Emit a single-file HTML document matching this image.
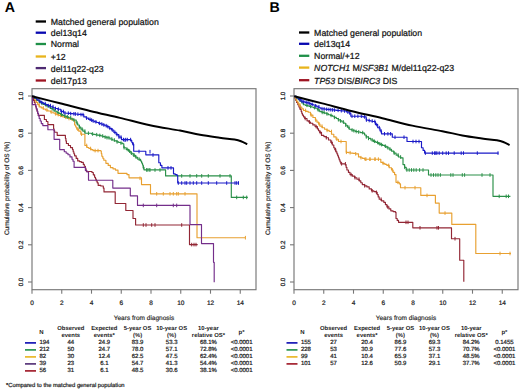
<!DOCTYPE html>
<html><head><meta charset="utf-8"><style>
html,body{margin:0;padding:0;background:#fff;width:520px;height:390px;overflow:hidden}
svg{display:block;font-family:"Liberation Sans", sans-serif;text-rendering:geometricPrecision}

</style></head><body>
<svg width="520" height="390" viewBox="0 0 520 390">
<text x="4.85" y="11.6" font-size="14.2" text-anchor="start" font-weight="bold" font-style="normal" fill="#000" >A</text>
<line x1="35.7" y1="21.5" x2="46" y2="21.5" stroke="#000000" stroke-width="2.3"/>
<text x="50.8" y="24.9" font-size="8.75" fill="#111" stroke="#111" stroke-width="0.22">Matched general population</text>
<line x1="35.7" y1="32.7" x2="46" y2="32.7" stroke="#0808b0" stroke-width="2.3"/>
<text x="50.8" y="36.1" font-size="8.75" fill="#111" stroke="#111" stroke-width="0.22">del13q14</text>
<line x1="35.7" y1="44.0" x2="46" y2="44.0" stroke="#1f9048" stroke-width="2.3"/>
<text x="50.8" y="47.4" font-size="8.75" fill="#111" stroke="#111" stroke-width="0.22">Normal</text>
<line x1="35.7" y1="56.5" x2="46" y2="56.5" stroke="#e8b41c" stroke-width="2.3"/>
<text x="50.8" y="59.9" font-size="8.75" fill="#111" stroke="#111" stroke-width="0.22">+12</text>
<line x1="35.7" y1="68.1" x2="46" y2="68.1" stroke="#4e2a72" stroke-width="2.3"/>
<text x="50.8" y="71.5" font-size="8.75" fill="#111" stroke="#111" stroke-width="0.22">del11q22-q23</text>
<line x1="35.7" y1="80.5" x2="46" y2="80.5" stroke="#9e1422" stroke-width="2.3"/>
<text x="50.8" y="83.9" font-size="8.75" fill="#111" stroke="#111" stroke-width="0.22">del17p13</text>
<rect x="32.0" y="88.7" width="224.0" height="201.0" fill="none" stroke="#777" stroke-width="1.15"/>
<line x1="28.0" y1="282.0" x2="32.0" y2="282.0" stroke="#777" stroke-width="1.1"/>
<text transform="translate(23.3,282.0) rotate(-90)" font-size="6.2" text-anchor="middle" fill="#222" stroke="#222" stroke-width="0.25">0.0</text>
<line x1="28.0" y1="244.8" x2="32.0" y2="244.8" stroke="#777" stroke-width="1.1"/>
<text transform="translate(23.3,244.8) rotate(-90)" font-size="6.2" text-anchor="middle" fill="#222" stroke="#222" stroke-width="0.25">0.2</text>
<line x1="28.0" y1="207.6" x2="32.0" y2="207.6" stroke="#777" stroke-width="1.1"/>
<text transform="translate(23.3,207.6) rotate(-90)" font-size="6.2" text-anchor="middle" fill="#222" stroke="#222" stroke-width="0.25">0.4</text>
<line x1="28.0" y1="170.4" x2="32.0" y2="170.4" stroke="#777" stroke-width="1.1"/>
<text transform="translate(23.3,170.4) rotate(-90)" font-size="6.2" text-anchor="middle" fill="#222" stroke="#222" stroke-width="0.25">0.6</text>
<line x1="28.0" y1="133.2" x2="32.0" y2="133.2" stroke="#777" stroke-width="1.1"/>
<text transform="translate(23.3,133.2) rotate(-90)" font-size="6.2" text-anchor="middle" fill="#222" stroke="#222" stroke-width="0.25">0.8</text>
<line x1="28.0" y1="96.0" x2="32.0" y2="96.0" stroke="#777" stroke-width="1.1"/>
<text transform="translate(23.3,96.0) rotate(-90)" font-size="6.2" text-anchor="middle" fill="#222" stroke="#222" stroke-width="0.25">1.0</text>
<text transform="translate(9.2,188.4) rotate(-90)" font-size="6.45" text-anchor="middle" fill="#262626" stroke="#262626" stroke-width="0.18">Cumulative probability of OS (%)</text>
<line x1="32.0" y1="289.7" x2="32.0" y2="293.7" stroke="#777" stroke-width="1.1"/>
<text x="32.0" y="305" font-size="6.5" text-anchor="middle" font-weight="normal" font-style="normal" fill="#222" stroke="#222" stroke-width="0.22" >0</text>
<line x1="61.75" y1="289.7" x2="61.75" y2="293.7" stroke="#777" stroke-width="1.1"/>
<text x="61.75" y="305" font-size="6.5" text-anchor="middle" font-weight="normal" font-style="normal" fill="#222" stroke="#222" stroke-width="0.22" >2</text>
<line x1="91.5" y1="289.7" x2="91.5" y2="293.7" stroke="#777" stroke-width="1.1"/>
<text x="91.5" y="305" font-size="6.5" text-anchor="middle" font-weight="normal" font-style="normal" fill="#222" stroke="#222" stroke-width="0.22" >4</text>
<line x1="121.25" y1="289.7" x2="121.25" y2="293.7" stroke="#777" stroke-width="1.1"/>
<text x="121.25" y="305" font-size="6.5" text-anchor="middle" font-weight="normal" font-style="normal" fill="#222" stroke="#222" stroke-width="0.22" >6</text>
<line x1="151.0" y1="289.7" x2="151.0" y2="293.7" stroke="#777" stroke-width="1.1"/>
<text x="151.0" y="305" font-size="6.5" text-anchor="middle" font-weight="normal" font-style="normal" fill="#222" stroke="#222" stroke-width="0.22" >8</text>
<line x1="180.75" y1="289.7" x2="180.75" y2="293.7" stroke="#777" stroke-width="1.1"/>
<text x="180.75" y="305" font-size="6.5" text-anchor="middle" font-weight="normal" font-style="normal" fill="#222" stroke="#222" stroke-width="0.22" >10</text>
<line x1="210.5" y1="289.7" x2="210.5" y2="293.7" stroke="#777" stroke-width="1.1"/>
<text x="210.5" y="305" font-size="6.5" text-anchor="middle" font-weight="normal" font-style="normal" fill="#222" stroke="#222" stroke-width="0.22" >12</text>
<line x1="240.25" y1="289.7" x2="240.25" y2="293.7" stroke="#777" stroke-width="1.1"/>
<text x="240.25" y="305" font-size="6.5" text-anchor="middle" font-weight="normal" font-style="normal" fill="#222" stroke="#222" stroke-width="0.22" >14</text>
<text x="144.0" y="320.3" font-size="6.5" text-anchor="middle" font-weight="normal" font-style="normal" fill="#262626" stroke="#262626" stroke-width="0.16" >Years from diagnosis</text>
<path d="M32.0,96.3 L33.4,96.3 L33.4,98.3 L34.8,98.3 L34.8,100.3 L36.2,100.3 L36.2,102.3 L37.7,102.3 L37.7,104.6 L39.2,104.6 L39.2,106.9 L41.3,106.9 L41.3,107.9 L43.3,107.9 L43.3,109.0 L45.4,109.0 L45.4,110.0 L47.9,110.0 L47.9,111.0 L50.5,111.0 L50.5,112.0 L53.0,112.0 L53.0,113.0 L55.0,113.0 L55.0,113.8 L56.9,113.8 L56.9,114.6 L58.8,114.6 L58.8,115.4 L60.8,115.4 L60.8,116.2 L62.7,116.2 L62.7,116.8 L64.7,116.8 L64.7,117.3 L66.6,117.3 L66.6,117.9 L68.5,117.9 L68.5,118.5 L70.8,118.5 L70.8,119.2 L73.0,119.2 L73.0,120.0 L74.6,120.0 L74.6,125.0 L75.7,125.0 L75.7,127.0 L76.7,127.0 L76.7,129.1 L78.7,129.1 L78.7,131.1 L80.8,131.1 L80.8,134.2 L84.9,134.2 L84.9,145.5 L86.9,145.5 L86.9,147.5 L88.9,147.5 L88.9,148.5 L91.0,148.5 L91.0,149.6 L93.0,149.6 L93.0,150.6 L100.8,150.6 L100.8,151.0 L101.3,151.0 L101.3,153.6 L101.8,153.6 L101.8,156.2 L102.8,156.2 L102.8,158.2 L103.8,158.2 L103.8,160.2 L105.9,160.2 L105.9,163.3 L108.2,163.3 L108.2,165.4 L110.4,165.4 L110.4,167.6 L113.0,167.6 L113.0,168.8 L115.5,168.8 L115.5,170.1 L118.0,170.1 L118.0,173.3 L127.0,173.3 L127.0,174.6 L129.0,174.6 L129.0,177.8 L141.5,177.8 L141.5,184.6 L150.5,184.6 L150.5,193.8 L197.0,193.8 L197.0,237.7 L245.4,237.7" fill="none" stroke="#e8a030" stroke-width="1.15" stroke-linejoin="round"/>
<path d="M140.0,176.5V180.1 M156.7,192.0V195.6 M163.3,192.0V195.6 M170.0,192.0V195.6 M173.3,192.0V195.6 M176.7,192.0V195.6 M178.3,192.0V195.6 M185.0,192.0V195.6 M245.4,235.9V239.5 M36.0,98.5V102.1 M39.2,102.8V106.4 M43.3,106.1V109.7 M46.9,108.2V111.8 M51.2,110.2V113.8 M55.6,112.0V115.6 M58.2,112.8V116.4 M60.7,113.6V117.2 M65.8,115.5V119.1 M69.0,116.7V120.3 M72.1,117.5V121.0 M77.7,127.3V130.9 M81.6,132.4V136.0 M86.7,143.7V147.3 M90.6,146.7V150.3 M95.1,148.8V152.4 M98.0,148.8V152.4" stroke="#e8a030" stroke-width="1"/>
<path d="M32.0,96.3 L32.8,96.3 L32.8,98.4 L33.5,98.4 L33.5,100.4 L34.3,100.4 L34.3,102.5 L35.1,102.5 L35.1,104.6 L35.7,104.6 L35.7,106.8 L36.3,106.8 L36.3,108.9 L37.0,108.9 L37.0,111.1 L37.6,111.1 L37.6,113.2 L38.2,113.2 L38.2,115.4 L44.4,115.4 L44.4,119.5 L46.4,119.5 L46.4,121.5 L47.9,121.5 L47.9,124.6 L53.6,124.6 L53.6,128.7 L54.1,128.7 L54.1,130.4 L54.6,130.4 L54.6,132.2 L57.2,132.2 L57.2,135.3 L65.4,135.3 L65.4,138.3 L65.9,138.3 L65.9,140.9 L66.4,140.9 L66.4,143.5 L68.4,143.5 L68.4,145.5 L70.5,145.5 L70.5,147.6 L72.5,147.6 L72.5,149.6 L73.2,149.6 L73.2,151.7 L73.9,151.7 L73.9,153.7 L74.6,153.7 L74.6,155.8 L76.2,155.8 L76.2,158.4 L77.7,158.4 L77.7,160.9 L79.5,160.9 L79.5,161.6 L81.3,161.6 L81.3,162.3 L83.3,162.3 L83.3,164.4 L84.3,164.4 L84.3,166.2 L85.4,166.2 L85.4,168.0 L85.9,168.0 L85.9,169.8 L86.4,169.8 L86.4,171.5 L92.0,171.5 L92.0,172.5 L93.3,172.5 L93.3,174.8 L94.6,174.8 L94.6,177.2 L95.5,177.2 L95.5,179.1 L96.3,179.1 L96.3,180.9 L97.2,180.9 L97.2,182.8 L98.2,182.8 L98.2,185.4 L100.8,185.4 L100.8,186.0 L103.3,186.0 L103.3,188.1 L104.0,188.1 L104.0,191.9 L115.2,191.9 L115.2,203.5 L125.8,203.5 L125.8,210.5 L133.0,210.5 L133.0,218.5 L135.6,218.5 L135.6,225.0 L189.5,225.0 L189.5,244.6 L197.7,244.6" fill="none" stroke="#922634" stroke-width="1.15" stroke-linejoin="round"/>
<path d="M143.3,223.2V226.8 M146.0,223.2V226.8 M151.7,223.2V226.8 M155.0,223.2V226.8 M181.7,223.2V226.8 M191.7,242.8V246.4 M194.0,242.8V246.4 M196.0,242.8V246.4" stroke="#922634" stroke-width="1"/>
<path d="M32.0,96.3 L32.4,96.3 L32.4,104.6 L35.1,104.6 L35.8,104.6 L35.8,106.8 L36.4,106.8 L36.4,108.9 L37.1,108.9 L37.1,111.1 L37.7,111.1 L37.7,113.3 L38.5,113.3 L38.5,115.9 L39.2,115.9 L39.2,118.5 L40.2,118.5 L40.2,121.0 L41.3,121.0 L41.3,123.6 L42.8,123.6 L42.8,125.6 L47.9,125.6 L47.9,129.7 L54.1,129.7 L54.1,139.3 L59.7,139.3 L59.7,149.6 L64.3,149.6 L64.3,151.7 L66.2,151.7 L66.2,153.2 L68.0,153.2 L68.0,154.7 L70.0,154.7 L70.0,156.9 L72.0,156.9 L72.0,159.2 L73.0,159.2 L73.0,161.2 L74.1,161.2 L74.1,163.3 L74.1,167.4 L82.8,167.4 L85.4,167.4 L85.4,170.5 L86.9,170.5 L86.9,172.0 L88.5,172.0 L88.5,180.2 L112.8,180.2 L112.8,188.1 L130.3,188.1 L130.3,195.8 L137.5,195.8 L137.5,205.4 L190.0,205.4 L190.0,224.6 L201.5,224.6 L201.5,243.6 L213.5,243.6 L213.5,262.3 L214.2,262.3 L214.2,282.3" fill="none" stroke="#742e8a" stroke-width="1.15" stroke-linejoin="round"/>
<path d="M143.3,203.6V207.2 M156.7,203.6V207.2 M173.3,203.6V207.2 M176.7,203.6V207.2" stroke="#742e8a" stroke-width="1"/>
<path d="M32.0,96.3 L34.4,96.3 L34.4,98.3 L36.8,98.3 L36.8,100.3 L39.2,100.3 L39.2,102.3 L41.3,102.3 L41.3,103.3 L43.3,103.3 L43.3,104.4 L45.4,104.4 L45.4,105.4 L47.9,105.4 L47.9,106.9 L50.5,106.9 L50.5,108.5 L53.0,108.5 L53.0,110.0 L55.0,110.0 L55.0,111.2 L56.9,111.2 L56.9,112.3 L58.8,112.3 L58.8,113.4 L60.8,113.4 L60.8,114.6 L62.7,114.6 L62.7,115.4 L64.7,115.4 L64.7,116.2 L66.6,116.2 L66.6,116.9 L68.5,116.9 L68.5,117.7 L70.8,117.7 L70.8,118.8 L73.0,118.8 L73.0,120.0 L76.2,120.0 L76.2,123.0 L77.7,123.0 L77.7,125.0 L79.3,125.0 L79.3,127.1 L80.8,127.1 L80.8,129.1 L82.8,129.1 L82.8,131.1 L84.9,131.1 L84.9,133.2 L91.5,133.2 L91.5,134.0 L93.4,134.0 L93.4,134.3 L95.3,134.3 L95.3,134.7 L97.3,134.7 L97.3,135.1 L99.2,135.1 L99.2,135.4 L101.1,135.4 L101.1,136.0 L103.1,136.0 L103.1,136.6 L105.0,136.6 L105.0,137.1 L106.9,137.1 L106.9,137.7 L110.0,137.7 L110.0,139.0 L112.3,139.0 L112.3,140.0 L114.6,140.0 L114.6,140.9 L116.9,140.9 L116.9,141.9 L118.8,141.9 L118.8,142.5 L120.8,142.5 L120.8,143.1 L122.7,143.1 L122.7,143.7 L123.8,143.7 L123.8,147.7 L126.2,147.7 L126.2,149.4 L128.5,149.4 L128.5,151.2 L130.8,151.2 L130.8,153.2 L133.1,153.2 L133.1,155.2 L135.4,155.2 L135.4,157.2 L137.7,157.2 L137.7,159.2 L140.6,159.2 L140.6,161.0 L141.6,161.0 L141.6,163.0 L142.5,163.0 L142.5,165.0 L143.2,165.0 L143.2,167.4 L144.0,167.4 L144.0,169.8 L165.6,169.8 L165.6,175.9 L231.3,175.9 L231.3,197.4 L247.8,197.4" fill="none" stroke="#2a9048" stroke-width="1.15" stroke-linejoin="round"/>
<path d="M181.7,174.1V177.7 M190.0,174.1V177.7 M196.7,174.1V177.7 M201.7,174.1V177.7 M208.3,174.1V177.7 M220.0,174.1V177.7 M230.0,174.1V177.7 M236.7,195.6V199.2 M243.3,195.6V199.2 M246.7,195.6V199.2 M160.0,168.2V171.8 M155.0,168.2V171.8 M150.0,168.2V171.8 M147.0,168.2V171.8 M134.0,153.4V157.0 M42.0,101.5V105.1 M46.1,103.6V107.2 M50.2,105.1V108.7 M52.1,106.7V110.3 M54.1,108.2V111.8 M57.9,110.5V114.1 M61.5,112.8V116.4 M64.9,114.4V118.0 M67.4,115.1V118.7 M70.7,115.9V119.5 M73.9,118.2V121.8 M77.1,121.2V124.8 M79.3,125.3V128.9 M82.1,127.3V130.9 M84.9,129.3V132.9 M88.4,131.4V135.0 M92.6,132.2V135.8 M96.7,132.9V136.5 M99.8,133.6V137.2 M102.7,134.2V137.8 M105.1,135.3V138.9 M107.0,135.9V139.5 M108.9,135.9V139.5 M111.8,137.2V140.8 M114.3,138.2V141.8 M117.1,140.1V143.7 M121.0,141.3V144.9 M124.1,145.9V149.5 M127.2,147.6V151.2 M129.6,149.4V153.0 M131.4,151.4V155.0 M134.0,153.4V157.0 M136.1,155.4V159.0 M139.2,157.4V161.0 M143.4,165.6V169.2 M146.8,168.0V171.6 M149.0,168.0V171.6" stroke="#2a9048" stroke-width="1"/>
<path d="M32.0,96.3 L34.4,96.3 L34.4,98.0 L36.8,98.0 L36.8,99.8 L39.2,99.8 L39.2,101.5 L41.3,101.5 L41.3,102.5 L43.3,102.5 L43.3,103.6 L45.4,103.6 L45.4,104.6 L47.9,104.6 L47.9,105.6 L50.5,105.6 L50.5,106.7 L53.0,106.7 L53.0,107.7 L55.4,107.7 L55.4,108.5 L57.7,108.5 L57.7,109.2 L60.8,109.2 L60.8,111.5 L63.8,111.5 L63.8,113.0 L66.1,113.0 L66.1,113.2 L68.4,113.2 L68.4,113.4 L70.7,113.4 L70.7,113.6 L73.0,113.6 L73.0,113.8 L75.0,113.8 L75.0,114.0 L76.9,114.0 L76.9,114.2 L78.8,114.2 L78.8,114.4 L80.8,114.4 L80.8,114.6 L83.8,114.6 L83.8,116.9 L86.2,116.9 L86.2,118.1 L88.5,118.1 L88.5,119.3 L90.5,119.3 L90.5,120.1 L92.6,120.1 L92.6,121.0 L94.6,121.0 L94.6,121.8 L96.7,121.8 L96.7,122.5 L98.7,122.5 L98.7,123.3 L100.8,123.3 L100.8,124.0 L102.8,124.0 L102.8,124.9 L104.9,124.9 L104.9,125.7 L106.9,125.7 L106.9,126.6 L109.2,126.6 L109.2,128.3 L111.5,128.3 L111.5,130.0 L113.8,130.0 L113.8,132.3 L116.2,132.3 L116.2,134.6 L118.8,134.6 L118.8,137.1 L121.5,137.1 L121.5,139.6 L130.8,139.6 L130.8,140.2 L131.7,140.2 L131.7,142.2 L132.5,142.2 L132.5,144.2 L133.7,144.2 L133.7,151.2 L145.8,151.2 L145.8,154.8 L158.8,154.8 L158.8,162.7 L160.4,162.7 L160.4,165.3 L161.9,165.3 L161.9,167.9 L173.5,167.9 L173.5,173.8 L175.2,173.8 L175.2,174.6 L177.0,174.6 L177.0,175.4 L177.7,175.4 L177.7,183.0 L238.7,183.0" fill="none" stroke="#1a1ac8" stroke-width="1.15" stroke-linejoin="round"/>
<path d="M178.3,181.2V184.8 M181.7,181.2V184.8 M185.0,181.2V184.8 M186.7,181.2V184.8 M190.0,181.2V184.8 M193.3,181.2V184.8 M196.7,181.2V184.8 M201.7,181.2V184.8 M208.3,181.2V184.8 M216.7,181.2V184.8 M226.7,181.2V184.8 M235.0,181.2V184.8 M236.7,181.2V184.8 M238.5,181.2V184.8 M168.0,166.1V169.7 M171.0,166.1V169.7 M150.0,149.9V153.5 M139.0,149.7V153.3 M125.0,138.4V142.0 M153.0,153.2V156.8 M40.0,99.7V103.3 M41.8,100.7V104.3 M45.2,101.8V105.4 M48.3,103.8V107.4 M50.4,103.8V107.4 M53.0,104.9V108.5 M55.5,106.7V110.2 M58.4,107.4V111.0 M61.6,109.7V113.3 M63.4,109.7V113.3 M65.0,111.2V114.8 M68.3,111.4V115.0 M70.7,111.8V115.4 M73.9,112.0V115.6 M75.4,112.2V115.8 M77.9,112.4V116.0 M81.0,112.8V116.4 M83.0,112.8V116.4 M86.6,116.3V119.9 M90.0,117.5V121.1 M91.6,118.3V121.9 M93.2,119.2V122.8 M95.9,120.0V123.6 M99.4,121.5V125.1 M101.8,122.2V125.8 M103.8,123.1V126.7 M106.2,123.9V127.5 M107.8,124.8V128.4 M109.9,126.5V130.1 M112.3,128.2V131.8 M114.9,130.5V134.1 M117.0,132.8V136.4 M119.0,135.3V138.9 M121.0,135.3V138.9 M123.5,137.8V141.4 M125.7,137.8V141.4 M127.3,137.8V141.4 M130.6,137.8V141.4 M133.3,142.4V146.0" stroke="#1a1ac8" stroke-width="1"/>
<path d="M32.00,96.30 C36.67,97.47 50.33,100.85 60.00,103.30 C69.67,105.75 80.00,108.57 90.00,111.00 C100.00,113.43 110.00,115.53 120.00,117.90 C130.00,120.27 140.00,123.08 150.00,125.20 C160.00,127.32 171.67,129.00 180.00,130.60 C188.33,132.20 193.40,133.62 200.00,134.80 C206.60,135.98 213.83,136.90 219.60,137.70 C225.37,138.50 231.03,139.02 234.60,139.60 C238.17,140.18 238.88,140.43 241.00,141.20 C243.12,141.97 246.25,143.70 247.30,144.20" fill="none" stroke="#000000" stroke-width="2.0" stroke-linejoin="round"/>
<text x="41.3" y="334.2" font-size="6" text-anchor="middle" font-weight="bold" font-style="normal" fill="#222" >N</text>
<text x="70.8" y="330.4" font-size="5.9" text-anchor="middle" font-weight="bold" font-style="normal" fill="#222" >Observed</text>
<text x="70.8" y="337.3" font-size="5.9" text-anchor="middle" font-weight="bold" font-style="normal" fill="#222" >events</text>
<text x="104.3" y="330.4" font-size="5.9" text-anchor="middle" font-weight="bold" font-style="normal" fill="#222" >Expected</text>
<text x="104.3" y="337.3" font-size="5.9" text-anchor="middle" font-weight="bold" font-style="normal" fill="#222" >events*</text>
<text x="137.6" y="330.4" font-size="5.9" text-anchor="middle" font-weight="bold" font-style="normal" fill="#222" >5-year OS</text>
<text x="137.6" y="337.3" font-size="5.9" text-anchor="middle" font-weight="bold" font-style="normal" fill="#222" >(%)</text>
<text x="171.7" y="330.4" font-size="5.9" text-anchor="middle" font-weight="bold" font-style="normal" fill="#222" >10-year OS</text>
<text x="171.7" y="337.3" font-size="5.9" text-anchor="middle" font-weight="bold" font-style="normal" fill="#222" >(%)</text>
<text x="208.4" y="330.4" font-size="5.9" text-anchor="middle" font-weight="bold" font-style="normal" fill="#222" >10-year</text>
<text x="208.4" y="337.3" font-size="5.9" text-anchor="middle" font-weight="bold" font-style="normal" fill="#222" >relative OS*</text>
<text x="241.6" y="334.2" font-size="6" text-anchor="middle" font-weight="bold" font-style="normal" fill="#222" >p*</text>
<line x1="25.0" y1="342.9" x2="36.0" y2="342.9" stroke="#0808b0" stroke-width="1.6"/>
<text x="39.4" y="344.1" font-size="6" text-anchor="start" font-weight="normal" font-style="normal" fill="#222" stroke="#222" stroke-width="0.22" >194</text>
<text x="70.8" y="344.1" font-size="6" text-anchor="middle" font-weight="normal" font-style="normal" fill="#222" stroke="#222" stroke-width="0.22" >44</text>
<text x="104.3" y="344.1" font-size="6" text-anchor="middle" font-weight="normal" font-style="normal" fill="#222" stroke="#222" stroke-width="0.22" >24.9</text>
<text x="137.6" y="344.1" font-size="6" text-anchor="middle" font-weight="normal" font-style="normal" fill="#222" stroke="#222" stroke-width="0.22" >83.9</text>
<text x="171.7" y="344.1" font-size="6" text-anchor="middle" font-weight="normal" font-style="normal" fill="#222" stroke="#222" stroke-width="0.22" >53.3</text>
<text x="208.4" y="344.1" font-size="6" text-anchor="middle" font-weight="normal" font-style="normal" fill="#222" stroke="#222" stroke-width="0.22" >68.1%</text>
<text x="241.6" y="344.1" font-size="6" text-anchor="middle" font-weight="normal" font-style="normal" fill="#222" stroke="#222" stroke-width="0.22" >&lt;0.0001</text>
<line x1="25.0" y1="349.9" x2="36.0" y2="349.9" stroke="#1f9048" stroke-width="1.6"/>
<text x="39.4" y="351.1" font-size="6" text-anchor="start" font-weight="normal" font-style="normal" fill="#222" stroke="#222" stroke-width="0.22" >212</text>
<text x="70.8" y="351.1" font-size="6" text-anchor="middle" font-weight="normal" font-style="normal" fill="#222" stroke="#222" stroke-width="0.22" >50</text>
<text x="104.3" y="351.1" font-size="6" text-anchor="middle" font-weight="normal" font-style="normal" fill="#222" stroke="#222" stroke-width="0.22" >24.7</text>
<text x="137.6" y="351.1" font-size="6" text-anchor="middle" font-weight="normal" font-style="normal" fill="#222" stroke="#222" stroke-width="0.22" >78.0</text>
<text x="171.7" y="351.1" font-size="6" text-anchor="middle" font-weight="normal" font-style="normal" fill="#222" stroke="#222" stroke-width="0.22" >57.1</text>
<text x="208.4" y="351.1" font-size="6" text-anchor="middle" font-weight="normal" font-style="normal" fill="#222" stroke="#222" stroke-width="0.22" >72.8%</text>
<text x="241.6" y="351.1" font-size="6" text-anchor="middle" font-weight="normal" font-style="normal" fill="#222" stroke="#222" stroke-width="0.22" >&lt;0.0001</text>
<line x1="25.0" y1="356.9" x2="36.0" y2="356.9" stroke="#e8b41c" stroke-width="1.6"/>
<text x="39.4" y="358.1" font-size="6" text-anchor="start" font-weight="normal" font-style="normal" fill="#222" stroke="#222" stroke-width="0.22" >82</text>
<text x="70.8" y="358.1" font-size="6" text-anchor="middle" font-weight="normal" font-style="normal" fill="#222" stroke="#222" stroke-width="0.22" >30</text>
<text x="104.3" y="358.1" font-size="6" text-anchor="middle" font-weight="normal" font-style="normal" fill="#222" stroke="#222" stroke-width="0.22" >12.4</text>
<text x="137.6" y="358.1" font-size="6" text-anchor="middle" font-weight="normal" font-style="normal" fill="#222" stroke="#222" stroke-width="0.22" >62.5</text>
<text x="171.7" y="358.1" font-size="6" text-anchor="middle" font-weight="normal" font-style="normal" fill="#222" stroke="#222" stroke-width="0.22" >47.5</text>
<text x="208.4" y="358.1" font-size="6" text-anchor="middle" font-weight="normal" font-style="normal" fill="#222" stroke="#222" stroke-width="0.22" >62.4%</text>
<text x="241.6" y="358.1" font-size="6" text-anchor="middle" font-weight="normal" font-style="normal" fill="#222" stroke="#222" stroke-width="0.22" >&lt;0.0001</text>
<line x1="25.0" y1="363.9" x2="36.0" y2="363.9" stroke="#4e2a72" stroke-width="1.6"/>
<text x="39.4" y="365.1" font-size="6" text-anchor="start" font-weight="normal" font-style="normal" fill="#222" stroke="#222" stroke-width="0.22" >39</text>
<text x="70.8" y="365.1" font-size="6" text-anchor="middle" font-weight="normal" font-style="normal" fill="#222" stroke="#222" stroke-width="0.22" >23</text>
<text x="104.3" y="365.1" font-size="6" text-anchor="middle" font-weight="normal" font-style="normal" fill="#222" stroke="#222" stroke-width="0.22" >6.1</text>
<text x="137.6" y="365.1" font-size="6" text-anchor="middle" font-weight="normal" font-style="normal" fill="#222" stroke="#222" stroke-width="0.22" >54.7</text>
<text x="171.7" y="365.1" font-size="6" text-anchor="middle" font-weight="normal" font-style="normal" fill="#222" stroke="#222" stroke-width="0.22" >41.3</text>
<text x="208.4" y="365.1" font-size="6" text-anchor="middle" font-weight="normal" font-style="normal" fill="#222" stroke="#222" stroke-width="0.22" >54.4%</text>
<text x="241.6" y="365.1" font-size="6" text-anchor="middle" font-weight="normal" font-style="normal" fill="#222" stroke="#222" stroke-width="0.22" >&lt;0.0001</text>
<line x1="25.0" y1="370.9" x2="36.0" y2="370.9" stroke="#9e1422" stroke-width="1.6"/>
<text x="39.4" y="372.1" font-size="6" text-anchor="start" font-weight="normal" font-style="normal" fill="#222" stroke="#222" stroke-width="0.22" >56</text>
<text x="70.8" y="372.1" font-size="6" text-anchor="middle" font-weight="normal" font-style="normal" fill="#222" stroke="#222" stroke-width="0.22" >31</text>
<text x="104.3" y="372.1" font-size="6" text-anchor="middle" font-weight="normal" font-style="normal" fill="#222" stroke="#222" stroke-width="0.22" >6.1</text>
<text x="137.6" y="372.1" font-size="6" text-anchor="middle" font-weight="normal" font-style="normal" fill="#222" stroke="#222" stroke-width="0.22" >48.5</text>
<text x="171.7" y="372.1" font-size="6" text-anchor="middle" font-weight="normal" font-style="normal" fill="#222" stroke="#222" stroke-width="0.22" >30.6</text>
<text x="208.4" y="372.1" font-size="6" text-anchor="middle" font-weight="normal" font-style="normal" fill="#222" stroke="#222" stroke-width="0.22" >38.1%</text>
<text x="241.6" y="372.1" font-size="6" text-anchor="middle" font-weight="normal" font-style="normal" fill="#222" stroke="#222" stroke-width="0.22" >&lt;0.0001</text>
<text x="269.5" y="11.6" font-size="14.2" text-anchor="start" font-weight="bold" font-style="normal" fill="#000" >B</text>
<line x1="299.0" y1="32.5" x2="309.3" y2="32.5" stroke="#000000" stroke-width="2.3"/>
<text x="314.1" y="35.9" font-size="8.75" fill="#111" stroke="#111" stroke-width="0.22">Matched general population</text>
<line x1="299.0" y1="43.8" x2="309.3" y2="43.8" stroke="#0808b0" stroke-width="2.3"/>
<text x="314.1" y="47.199999999999996" font-size="8.75" fill="#111" stroke="#111" stroke-width="0.22">del13q14</text>
<line x1="299.0" y1="55.8" x2="309.3" y2="55.8" stroke="#1f9048" stroke-width="2.3"/>
<text x="314.1" y="59.199999999999996" font-size="8.75" fill="#111" stroke="#111" stroke-width="0.22">Normal/+12</text>
<line x1="299.0" y1="67.6" x2="309.3" y2="67.6" stroke="#e8b41c" stroke-width="2.3"/>
<text x="314.1" y="71.0" font-size="8.75" fill="#111" stroke="#111" stroke-width="0.22"><tspan font-style="italic">NOTCH1</tspan> M/<tspan font-style="italic">SF3B1</tspan> M/del11q22-q23</text>
<line x1="299.0" y1="80.2" x2="309.3" y2="80.2" stroke="#9e1422" stroke-width="2.3"/>
<text x="314.1" y="83.60000000000001" font-size="8.75" fill="#111" stroke="#111" stroke-width="0.22"><tspan font-style="italic">TP53</tspan> DIS/<tspan font-style="italic">BIRC3</tspan> DIS</text>
<rect x="294.0" y="88.7" width="224.0" height="201.0" fill="none" stroke="#777" stroke-width="1.15"/>
<line x1="290.0" y1="282.0" x2="294.0" y2="282.0" stroke="#777" stroke-width="1.1"/>
<text transform="translate(284.6,282.0) rotate(-90)" font-size="6.2" text-anchor="middle" fill="#222" stroke="#222" stroke-width="0.25">0.0</text>
<line x1="290.0" y1="244.8" x2="294.0" y2="244.8" stroke="#777" stroke-width="1.1"/>
<text transform="translate(284.6,244.8) rotate(-90)" font-size="6.2" text-anchor="middle" fill="#222" stroke="#222" stroke-width="0.25">0.2</text>
<line x1="290.0" y1="207.6" x2="294.0" y2="207.6" stroke="#777" stroke-width="1.1"/>
<text transform="translate(284.6,207.6) rotate(-90)" font-size="6.2" text-anchor="middle" fill="#222" stroke="#222" stroke-width="0.25">0.4</text>
<line x1="290.0" y1="170.4" x2="294.0" y2="170.4" stroke="#777" stroke-width="1.1"/>
<text transform="translate(284.6,170.4) rotate(-90)" font-size="6.2" text-anchor="middle" fill="#222" stroke="#222" stroke-width="0.25">0.6</text>
<line x1="290.0" y1="133.2" x2="294.0" y2="133.2" stroke="#777" stroke-width="1.1"/>
<text transform="translate(284.6,133.2) rotate(-90)" font-size="6.2" text-anchor="middle" fill="#222" stroke="#222" stroke-width="0.25">0.8</text>
<line x1="290.0" y1="96.0" x2="294.0" y2="96.0" stroke="#777" stroke-width="1.1"/>
<text transform="translate(284.6,96.0) rotate(-90)" font-size="6.2" text-anchor="middle" fill="#222" stroke="#222" stroke-width="0.25">1.0</text>
<text transform="translate(270.2,188.4) rotate(-90)" font-size="6.45" text-anchor="middle" fill="#262626" stroke="#262626" stroke-width="0.18">Cumulative probability of OS (%)</text>
<line x1="294.0" y1="289.7" x2="294.0" y2="293.7" stroke="#777" stroke-width="1.1"/>
<text x="294.0" y="305" font-size="6.5" text-anchor="middle" font-weight="normal" font-style="normal" fill="#222" stroke="#222" stroke-width="0.22" >0</text>
<line x1="323.75" y1="289.7" x2="323.75" y2="293.7" stroke="#777" stroke-width="1.1"/>
<text x="323.75" y="305" font-size="6.5" text-anchor="middle" font-weight="normal" font-style="normal" fill="#222" stroke="#222" stroke-width="0.22" >2</text>
<line x1="353.5" y1="289.7" x2="353.5" y2="293.7" stroke="#777" stroke-width="1.1"/>
<text x="353.5" y="305" font-size="6.5" text-anchor="middle" font-weight="normal" font-style="normal" fill="#222" stroke="#222" stroke-width="0.22" >4</text>
<line x1="383.25" y1="289.7" x2="383.25" y2="293.7" stroke="#777" stroke-width="1.1"/>
<text x="383.25" y="305" font-size="6.5" text-anchor="middle" font-weight="normal" font-style="normal" fill="#222" stroke="#222" stroke-width="0.22" >6</text>
<line x1="413.0" y1="289.7" x2="413.0" y2="293.7" stroke="#777" stroke-width="1.1"/>
<text x="413.0" y="305" font-size="6.5" text-anchor="middle" font-weight="normal" font-style="normal" fill="#222" stroke="#222" stroke-width="0.22" >8</text>
<line x1="442.75" y1="289.7" x2="442.75" y2="293.7" stroke="#777" stroke-width="1.1"/>
<text x="442.75" y="305" font-size="6.5" text-anchor="middle" font-weight="normal" font-style="normal" fill="#222" stroke="#222" stroke-width="0.22" >10</text>
<line x1="472.5" y1="289.7" x2="472.5" y2="293.7" stroke="#777" stroke-width="1.1"/>
<text x="472.5" y="305" font-size="6.5" text-anchor="middle" font-weight="normal" font-style="normal" fill="#222" stroke="#222" stroke-width="0.22" >12</text>
<line x1="502.25" y1="289.7" x2="502.25" y2="293.7" stroke="#777" stroke-width="1.1"/>
<text x="502.25" y="305" font-size="6.5" text-anchor="middle" font-weight="normal" font-style="normal" fill="#222" stroke="#222" stroke-width="0.22" >14</text>
<text x="406.0" y="320.3" font-size="6.5" text-anchor="middle" font-weight="normal" font-style="normal" fill="#262626" stroke="#262626" stroke-width="0.16" >Years from diagnosis</text>
<path d="M294.3,96.4 L295.1,96.4 L295.1,98.4 L295.8,98.4 L295.8,100.4 L296.6,100.4 L296.6,102.4 L297.8,102.4 L297.8,104.7 L298.9,104.7 L298.9,107.0 L300.0,107.0 L300.0,109.3 L301.2,109.3 L301.2,111.6 L301.8,111.6 L301.8,113.3 L302.4,113.3 L302.4,115.1 L303.5,115.1 L303.5,116.8 L304.7,116.8 L304.7,118.5 L307.0,118.5 L307.0,120.8 L308.8,120.8 L308.8,122.0 L310.5,122.0 L310.5,123.2 L312.8,123.2 L312.8,124.9 L315.1,124.9 L315.1,126.6 L317.4,126.6 L317.4,128.9 L318.5,128.9 L318.5,130.7 L319.7,130.7 L319.7,132.4 L321.5,132.4 L321.5,135.4 L323.9,135.4 L323.9,136.6 L326.2,136.6 L326.2,137.7 L328.5,137.7 L328.5,140.0 L330.8,140.0 L330.8,142.3 L332.3,142.3 L332.3,145.0 L333.8,145.0 L333.8,147.7 L334.8,147.7 L334.8,149.7 L335.9,149.7 L335.9,151.8 L336.9,151.8 L336.9,153.8 L337.7,153.8 L337.7,155.8 L338.5,155.8 L338.5,157.8 L339.2,157.8 L339.2,159.8 L340.0,159.8 L340.0,161.8 L340.8,161.8 L340.8,163.8 L345.4,163.8 L345.4,164.6 L346.1,164.6 L346.1,167.3 L346.9,167.3 L346.9,170.0 L348.4,170.0 L348.4,172.3 L350.0,172.3 L350.0,174.6 L352.3,174.6 L352.3,176.1 L354.6,176.1 L354.6,177.7 L356.9,177.7 L356.9,179.2 L359.2,179.2 L359.2,180.8 L360.8,180.8 L360.8,182.7 L362.3,182.7 L362.3,184.6 L364.6,184.6 L364.6,185.8 L366.9,185.8 L366.9,186.9 L369.2,186.9 L369.2,188.9 L371.5,188.9 L371.5,190.8 L373.9,190.8 L373.9,191.6 L376.2,191.6 L376.2,192.3 L377.2,192.3 L377.2,194.6 L378.2,194.6 L378.2,196.9 L379.2,196.9 L379.2,199.2 L381.5,199.2 L381.5,200.8 L383.8,200.8 L383.8,202.3 L385.4,202.3 L385.4,204.6 L386.9,204.6 L386.9,206.9 L388.9,206.9 L388.9,208.9 L390.8,208.9 L390.8,210.8 L393.1,210.8 L393.1,211.6 L395.4,211.6 L395.4,212.3 L396.0,212.3 L396.0,218.5 L397.2,218.5 L397.2,220.4 L398.5,220.4 L398.5,222.3 L412.8,222.3 L412.8,227.8 L451.5,227.8 L451.5,238.7 L459.7,238.7 L459.7,260.2 L463.8,260.2 L463.8,281.8" fill="none" stroke="#922634" stroke-width="1.15" stroke-linejoin="round"/>
<path d="M406.0,220.5V224.1 M408.0,220.5V224.1 M437.0,226.0V229.6 M438.5,226.0V229.6 M420.0,226.0V229.6 M455.0,236.9V240.5 M300.0,105.2V108.8 M305.2,116.7V120.3 M309.5,120.2V123.8 M316.2,124.8V128.4 M320.2,130.6V134.2 M326.3,135.9V139.5 M331.7,140.5V144.1 M335.6,147.9V151.5 M341.6,162.0V165.6 M345.4,162.0V165.6 M351.1,172.8V176.4 M355.0,175.9V179.5 M359.0,177.4V181.1 M364.7,183.9V187.6 M372.2,189.0V192.6 M376.4,190.5V194.1 M381.1,197.4V201.0 M387.7,205.1V208.7" stroke="#922634" stroke-width="1"/>
<path d="M294.3,96.4 L295.5,96.4 L295.5,98.8 L296.6,98.8 L296.6,101.2 L297.8,101.2 L297.8,103.1 L298.9,103.1 L298.9,105.1 L300.1,105.1 L300.1,107.0 L301.8,107.0 L301.8,108.8 L303.5,108.8 L303.5,110.5 L305.9,110.5 L305.9,111.3 L308.2,111.3 L308.2,112.2 L310.5,112.2 L310.5,115.1 L312.9,115.1 L312.9,117.5 L315.4,117.5 L315.4,120.0 L316.9,120.0 L316.9,122.1 L318.5,122.1 L318.5,124.1 L320.0,124.1 L320.0,126.2 L322.3,126.2 L322.3,127.7 L324.6,127.7 L324.6,129.2 L326.9,129.2 L326.9,130.3 L329.2,130.3 L329.2,131.5 L331.5,131.5 L331.5,134.2 L333.8,134.2 L333.8,136.9 L336.1,136.9 L336.1,139.2 L338.5,139.2 L338.5,141.5 L346.2,141.5 L346.2,152.3 L348.5,152.3 L348.5,152.7 L350.8,152.7 L350.8,153.1 L353.1,153.1 L353.1,153.4 L355.4,153.4 L355.4,153.8 L358.5,153.8 L358.5,156.9 L360.5,156.9 L360.5,157.7 L362.6,157.7 L362.6,158.4 L364.6,158.4 L364.6,159.2 L377.7,159.2 L380.8,159.2 L380.8,162.3 L382.8,162.3 L382.8,163.3 L384.9,163.3 L384.9,164.4 L386.9,164.4 L386.9,165.4 L389.2,165.4 L389.2,167.7 L391.5,167.7 L391.5,170.0 L393.1,170.0 L393.1,172.3 L394.6,172.3 L394.6,174.6 L396.0,174.6 L396.0,182.3 L399.2,182.3 L399.2,183.8 L400.5,183.8 L400.5,187.7 L420.8,187.7 L420.8,195.4 L435.4,195.4 L435.4,203.1 L439.2,203.1 L439.2,213.1 L451.8,213.1 L451.8,224.4 L475.8,224.4 L475.8,253.5 L511.0,253.5" fill="none" stroke="#e8a030" stroke-width="1.15" stroke-linejoin="round"/>
<path d="M366.0,157.4V161.0 M370.0,157.4V161.0 M375.0,157.4V161.0 M405.0,185.9V189.5 M415.0,185.9V189.5 M427.0,193.6V197.2 M445.0,211.3V214.9 M500.0,251.7V255.3 M510.0,251.7V255.3 M300.0,103.3V106.9 M305.6,108.7V112.3 M311.2,113.3V116.9 M315.7,118.2V121.8 M319.3,122.3V125.9 M322.0,124.4V128.0 M327.1,128.5V132.2 M331.5,129.7V133.3 M336.9,137.4V141.0 M341.0,139.7V143.3 M346.4,150.5V154.1 M350.1,150.9V154.5 M355.7,152.0V155.6 M361.0,155.9V159.5 M365.2,157.4V161.0 M369.9,157.4V161.0 M375.0,157.4V161.0 M378.4,157.4V161.0 M383.1,161.5V165.1 M388.7,163.6V167.2 M392.4,168.2V171.8 M397.9,180.5V184.1" stroke="#e8a030" stroke-width="1"/>
<path d="M294.3,96.4 L296.2,96.4 L296.2,98.0 L298.2,98.0 L298.2,99.6 L300.1,99.6 L300.1,101.2 L301.8,101.2 L301.8,103.0 L303.5,103.0 L303.5,104.7 L305.4,104.7 L305.4,105.3 L307.4,105.3 L307.4,105.8 L309.3,105.8 L309.3,106.4 L311.2,106.4 L311.2,107.0 L313.2,107.0 L313.2,107.6 L315.1,107.6 L315.1,108.2 L317.4,108.2 L317.4,109.9 L319.7,109.9 L319.7,111.6 L322.0,111.6 L322.0,112.4 L324.3,112.4 L324.3,113.1 L326.6,113.1 L326.6,113.9 L328.5,113.9 L328.5,114.7 L330.5,114.7 L330.5,115.4 L332.4,115.4 L332.4,116.2 L334.3,116.2 L334.3,117.4 L336.3,117.4 L336.3,118.5 L338.2,118.5 L338.2,119.7 L340.1,119.7 L340.1,120.9 L342.0,120.9 L342.0,122.0 L343.9,122.0 L343.9,123.2 L345.7,123.2 L345.7,125.2 L347.4,125.2 L347.4,127.2 L349.2,127.2 L349.2,129.2 L351.3,129.2 L351.3,130.0 L353.3,130.0 L353.3,130.7 L355.4,130.7 L355.4,131.5 L357.9,131.5 L357.9,132.0 L360.5,132.0 L360.5,132.6 L363.0,132.6 L363.0,133.1 L364.6,133.1 L364.6,135.0 L366.2,135.0 L366.2,136.9 L368.5,136.9 L368.5,138.4 L370.8,138.4 L370.8,140.0 L373.4,140.0 L373.4,141.3 L375.9,141.3 L375.9,142.5 L378.5,142.5 L378.5,143.8 L380.5,143.8 L380.5,144.6 L382.6,144.6 L382.6,145.4 L384.6,145.4 L384.6,146.2 L386.9,146.2 L386.9,147.7 L389.2,147.7 L389.2,149.2 L391.5,149.2 L391.5,151.1 L393.8,151.1 L393.8,153.1 L396.1,153.1 L396.1,155.1 L398.5,155.1 L398.5,157.0 L400.8,157.0 L400.8,157.8 L403.0,157.8 L403.0,158.5 L403.0,164.6 L404.6,164.6 L404.6,167.3 L406.2,167.3 L406.2,170.0 L428.5,170.0 L428.5,175.0 L493.0,175.0 L493.0,196.3 L510.4,196.3" fill="none" stroke="#2a9048" stroke-width="1.15" stroke-linejoin="round"/>
<path d="M406.9,168.2V171.8 M409.2,168.2V171.8 M411.5,168.2V171.8 M413.8,168.2V171.8 M416.2,168.2V171.8 M419.6,168.2V171.8 M423.0,168.2V171.8 M431.0,173.2V176.8 M433.5,173.2V176.8 M435.8,173.2V176.8 M438.0,173.2V176.8 M440.4,173.2V176.8 M450.8,173.2V176.8 M453.0,173.2V176.8 M462.3,173.2V176.8 M464.6,173.2V176.8 M482.0,173.2V176.8 M490.0,173.2V176.8 M499.2,194.5V198.1 M506.2,194.5V198.1 M508.5,194.5V198.1 M300.0,97.8V101.4 M303.3,101.2V104.8 M306.9,103.5V107.1 M310.6,104.6V108.2 M314.6,105.8V109.4 M318.2,108.1V111.7 M322.2,110.6V114.2 M324.1,110.6V114.2 M327.0,112.1V115.7 M331.1,113.6V117.2 M334.4,115.6V119.2 M338.4,117.9V121.5 M340.5,119.1V122.7 M343.4,120.2V123.8 M345.8,123.4V127.0 M348.9,125.4V129.0 M352.1,128.2V131.8 M353.9,128.9V132.5 M356.2,129.7V133.3 M358.7,130.2V133.8 M362.7,130.8V134.4 M366.3,135.1V138.7 M368.5,136.6V140.2 M372.2,138.2V141.8 M374.4,139.5V143.1 M377.6,140.7V144.3 M379.8,142.0V145.6 M381.6,142.8V146.4 M385.4,144.4V148.0 M387.8,145.9V149.5 M390.1,147.4V151.0 M394.2,151.3V154.9 M398.1,153.2V156.9 M400.6,155.2V158.8 M404.7,165.5V169.1" stroke="#2a9048" stroke-width="1"/>
<path d="M294.3,96.4 L296.6,96.4 L296.6,98.0 L298.9,98.0 L298.9,99.6 L301.2,99.6 L301.2,101.2 L303.2,101.2 L303.2,101.8 L305.2,101.8 L305.2,102.3 L307.3,102.3 L307.3,102.9 L309.3,102.9 L309.3,103.5 L311.2,103.5 L311.2,104.3 L313.2,104.3 L313.2,105.0 L315.1,105.0 L315.1,105.8 L317.0,105.8 L317.0,106.8 L318.9,106.8 L318.9,107.7 L320.8,107.7 L320.8,108.7 L322.7,108.7 L322.7,108.9 L324.7,108.9 L324.7,109.1 L326.6,109.1 L326.6,109.3 L328.5,109.3 L328.5,109.5 L330.5,109.5 L330.5,109.7 L332.4,109.7 L332.4,109.9 L334.3,109.9 L334.3,110.1 L336.3,110.1 L336.3,110.3 L338.2,110.3 L338.2,110.5 L340.1,110.5 L340.1,110.7 L342.0,110.7 L342.0,110.8 L343.9,110.8 L343.9,111.0 L346.5,111.0 L346.5,112.0 L349.2,112.0 L349.2,113.1 L350.8,113.1 L350.8,116.2 L363.0,116.2 L363.0,116.9 L366.2,116.9 L366.2,120.0 L368.2,120.0 L368.2,120.5 L370.3,120.5 L370.3,121.0 L372.3,121.0 L372.3,121.5 L375.4,121.5 L375.4,124.6 L377.7,124.6 L377.7,127.7 L380.0,127.7 L380.0,130.8 L381.5,130.8 L381.5,133.8 L392.3,133.8 L392.3,137.2 L407.0,137.2 L407.0,141.5 L421.5,141.5 L421.5,147.7 L423.1,147.7 L423.1,150.4 L424.6,150.4 L424.6,153.1 L498.5,153.1" fill="none" stroke="#1a1ac8" stroke-width="1.15" stroke-linejoin="round"/>
<path d="M425.4,151.3V154.9 M432.3,151.3V154.9 M434.6,151.3V154.9 M435.8,151.3V154.9 M436.9,151.3V154.9 M439.2,151.3V154.9 M442.7,151.3V154.9 M446.2,151.3V154.9 M448.5,151.3V154.9 M454.2,151.3V154.9 M461.2,151.3V154.9 M463.5,151.3V154.9 M477.3,151.3V154.9 M498.0,151.3V154.9 M413.0,139.7V143.3 M416.0,139.7V143.3 M419.0,139.7V143.3 M404.0,135.4V139.0 M395.0,135.4V139.0 M300.0,97.8V101.4 M302.1,99.4V103.0 M303.8,100.0V103.6 M306.2,100.5V104.1 M308.1,101.1V104.7 M309.8,101.7V105.3 M312.2,102.5V106.1 M315.7,104.0V107.6 M318.9,105.0V108.6 M322.0,106.9V110.5 M324.1,107.1V110.7 M326.7,107.5V111.1 M328.9,107.7V111.3 M330.8,107.9V111.5 M332.6,108.1V111.7 M334.6,108.3V111.9 M338.1,108.5V112.1 M341.3,108.9V112.5 M344.6,109.2V112.8 M347.8,110.2V113.8 M349.8,111.3V114.9 M352.0,114.4V118.0 M354.8,114.4V118.0 M357.9,114.4V118.0 M361.3,114.4V118.0 M364.6,115.1V118.7 M366.4,118.2V121.8 M369.2,118.7V122.3 M372.2,119.2V122.8 M374.8,119.7V123.3 M376.7,122.8V126.4 M379.3,125.9V129.5 M381.0,129.0V132.6 M384.5,132.0V135.6 M387.9,132.0V135.6 M390.6,132.0V135.6" stroke="#1a1ac8" stroke-width="1"/>
<path d="M294.30,96.30 C298.97,97.48 312.63,100.92 322.30,103.40 C331.97,105.89 342.30,108.75 352.30,111.22 C362.30,113.69 372.30,115.82 382.30,118.23 C392.30,120.63 402.30,123.49 412.30,125.64 C422.30,127.79 433.97,129.52 442.30,131.15 C450.63,132.78 455.70,134.22 462.30,135.43 C468.90,136.63 476.13,137.58 481.90,138.40 C487.67,139.22 493.33,139.76 496.90,140.35 C500.47,140.95 501.18,141.20 503.30,141.98 C505.42,142.75 508.55,144.50 509.60,145.00" fill="none" stroke="#000000" stroke-width="2.0" stroke-linejoin="round"/>
<text x="302.5" y="334.2" font-size="6" text-anchor="middle" font-weight="bold" font-style="normal" fill="#222" >N</text>
<text x="333.6" y="330.4" font-size="5.9" text-anchor="middle" font-weight="bold" font-style="normal" fill="#222" >Observed</text>
<text x="333.6" y="337.3" font-size="5.9" text-anchor="middle" font-weight="bold" font-style="normal" fill="#222" >events</text>
<text x="367.1" y="330.4" font-size="5.9" text-anchor="middle" font-weight="bold" font-style="normal" fill="#222" >Expected</text>
<text x="367.1" y="337.3" font-size="5.9" text-anchor="middle" font-weight="bold" font-style="normal" fill="#222" >events*</text>
<text x="400.4" y="330.4" font-size="5.9" text-anchor="middle" font-weight="bold" font-style="normal" fill="#222" >5-year OS</text>
<text x="400.4" y="337.3" font-size="5.9" text-anchor="middle" font-weight="bold" font-style="normal" fill="#222" >(%)</text>
<text x="434.5" y="330.4" font-size="5.9" text-anchor="middle" font-weight="bold" font-style="normal" fill="#222" >10-year OS</text>
<text x="434.5" y="337.3" font-size="5.9" text-anchor="middle" font-weight="bold" font-style="normal" fill="#222" >(%)</text>
<text x="471.2" y="330.4" font-size="5.9" text-anchor="middle" font-weight="bold" font-style="normal" fill="#222" >10-year</text>
<text x="471.2" y="337.3" font-size="5.9" text-anchor="middle" font-weight="bold" font-style="normal" fill="#222" >relative OS*</text>
<text x="504.4" y="334.2" font-size="6" text-anchor="middle" font-weight="bold" font-style="normal" fill="#222" >p*</text>
<line x1="286.5" y1="342.9" x2="297.5" y2="342.9" stroke="#0808b0" stroke-width="1.6"/>
<text x="300.9" y="344.1" font-size="6" text-anchor="start" font-weight="normal" font-style="normal" fill="#222" stroke="#222" stroke-width="0.22" >155</text>
<text x="333.6" y="344.1" font-size="6" text-anchor="middle" font-weight="normal" font-style="normal" fill="#222" stroke="#222" stroke-width="0.22" >27</text>
<text x="367.1" y="344.1" font-size="6" text-anchor="middle" font-weight="normal" font-style="normal" fill="#222" stroke="#222" stroke-width="0.22" >20.4</text>
<text x="400.4" y="344.1" font-size="6" text-anchor="middle" font-weight="normal" font-style="normal" fill="#222" stroke="#222" stroke-width="0.22" >86.9</text>
<text x="434.5" y="344.1" font-size="6" text-anchor="middle" font-weight="normal" font-style="normal" fill="#222" stroke="#222" stroke-width="0.22" >69.3</text>
<text x="471.2" y="344.1" font-size="6" text-anchor="middle" font-weight="normal" font-style="normal" fill="#222" stroke="#222" stroke-width="0.22" >84.2%</text>
<text x="504.4" y="344.1" font-size="6" text-anchor="middle" font-weight="normal" font-style="normal" fill="#222" stroke="#222" stroke-width="0.22" >0.1455</text>
<line x1="286.5" y1="349.9" x2="297.5" y2="349.9" stroke="#1f9048" stroke-width="1.6"/>
<text x="300.9" y="351.1" font-size="6" text-anchor="start" font-weight="normal" font-style="normal" fill="#222" stroke="#222" stroke-width="0.22" >228</text>
<text x="333.6" y="351.1" font-size="6" text-anchor="middle" font-weight="normal" font-style="normal" fill="#222" stroke="#222" stroke-width="0.22" >53</text>
<text x="367.1" y="351.1" font-size="6" text-anchor="middle" font-weight="normal" font-style="normal" fill="#222" stroke="#222" stroke-width="0.22" >30.9</text>
<text x="400.4" y="351.1" font-size="6" text-anchor="middle" font-weight="normal" font-style="normal" fill="#222" stroke="#222" stroke-width="0.22" >77.6</text>
<text x="434.5" y="351.1" font-size="6" text-anchor="middle" font-weight="normal" font-style="normal" fill="#222" stroke="#222" stroke-width="0.22" >57.3</text>
<text x="471.2" y="351.1" font-size="6" text-anchor="middle" font-weight="normal" font-style="normal" fill="#222" stroke="#222" stroke-width="0.22" >70.7%</text>
<text x="504.4" y="351.1" font-size="6" text-anchor="middle" font-weight="normal" font-style="normal" fill="#222" stroke="#222" stroke-width="0.22" >&lt;0.0001</text>
<line x1="286.5" y1="356.9" x2="297.5" y2="356.9" stroke="#e8b41c" stroke-width="1.6"/>
<text x="300.9" y="358.1" font-size="6" text-anchor="start" font-weight="normal" font-style="normal" fill="#222" stroke="#222" stroke-width="0.22" >99</text>
<text x="333.6" y="358.1" font-size="6" text-anchor="middle" font-weight="normal" font-style="normal" fill="#222" stroke="#222" stroke-width="0.22" >41</text>
<text x="367.1" y="358.1" font-size="6" text-anchor="middle" font-weight="normal" font-style="normal" fill="#222" stroke="#222" stroke-width="0.22" >10.4</text>
<text x="400.4" y="358.1" font-size="6" text-anchor="middle" font-weight="normal" font-style="normal" fill="#222" stroke="#222" stroke-width="0.22" >65.9</text>
<text x="434.5" y="358.1" font-size="6" text-anchor="middle" font-weight="normal" font-style="normal" fill="#222" stroke="#222" stroke-width="0.22" >37.1</text>
<text x="471.2" y="358.1" font-size="6" text-anchor="middle" font-weight="normal" font-style="normal" fill="#222" stroke="#222" stroke-width="0.22" >48.5%</text>
<text x="504.4" y="358.1" font-size="6" text-anchor="middle" font-weight="normal" font-style="normal" fill="#222" stroke="#222" stroke-width="0.22" >&lt;0.0001</text>
<line x1="286.5" y1="363.9" x2="297.5" y2="363.9" stroke="#9e1422" stroke-width="1.6"/>
<text x="300.9" y="365.1" font-size="6" text-anchor="start" font-weight="normal" font-style="normal" fill="#222" stroke="#222" stroke-width="0.22" >101</text>
<text x="333.6" y="365.1" font-size="6" text-anchor="middle" font-weight="normal" font-style="normal" fill="#222" stroke="#222" stroke-width="0.22" >57</text>
<text x="367.1" y="365.1" font-size="6" text-anchor="middle" font-weight="normal" font-style="normal" fill="#222" stroke="#222" stroke-width="0.22" >12.6</text>
<text x="400.4" y="365.1" font-size="6" text-anchor="middle" font-weight="normal" font-style="normal" fill="#222" stroke="#222" stroke-width="0.22" >50.9</text>
<text x="434.5" y="365.1" font-size="6" text-anchor="middle" font-weight="normal" font-style="normal" fill="#222" stroke="#222" stroke-width="0.22" >29.1</text>
<text x="471.2" y="365.1" font-size="6" text-anchor="middle" font-weight="normal" font-style="normal" fill="#222" stroke="#222" stroke-width="0.22" >37.7%</text>
<text x="504.4" y="365.1" font-size="6" text-anchor="middle" font-weight="normal" font-style="normal" fill="#222" stroke="#222" stroke-width="0.22" >&lt;0.0001</text>
<text x="6.0" y="387" font-size="5.8" text-anchor="start" font-weight="normal" font-style="normal" fill="#222" stroke="#222" stroke-width="0.22" >*Compared to the matched general population</text>
</svg>
</body></html>
